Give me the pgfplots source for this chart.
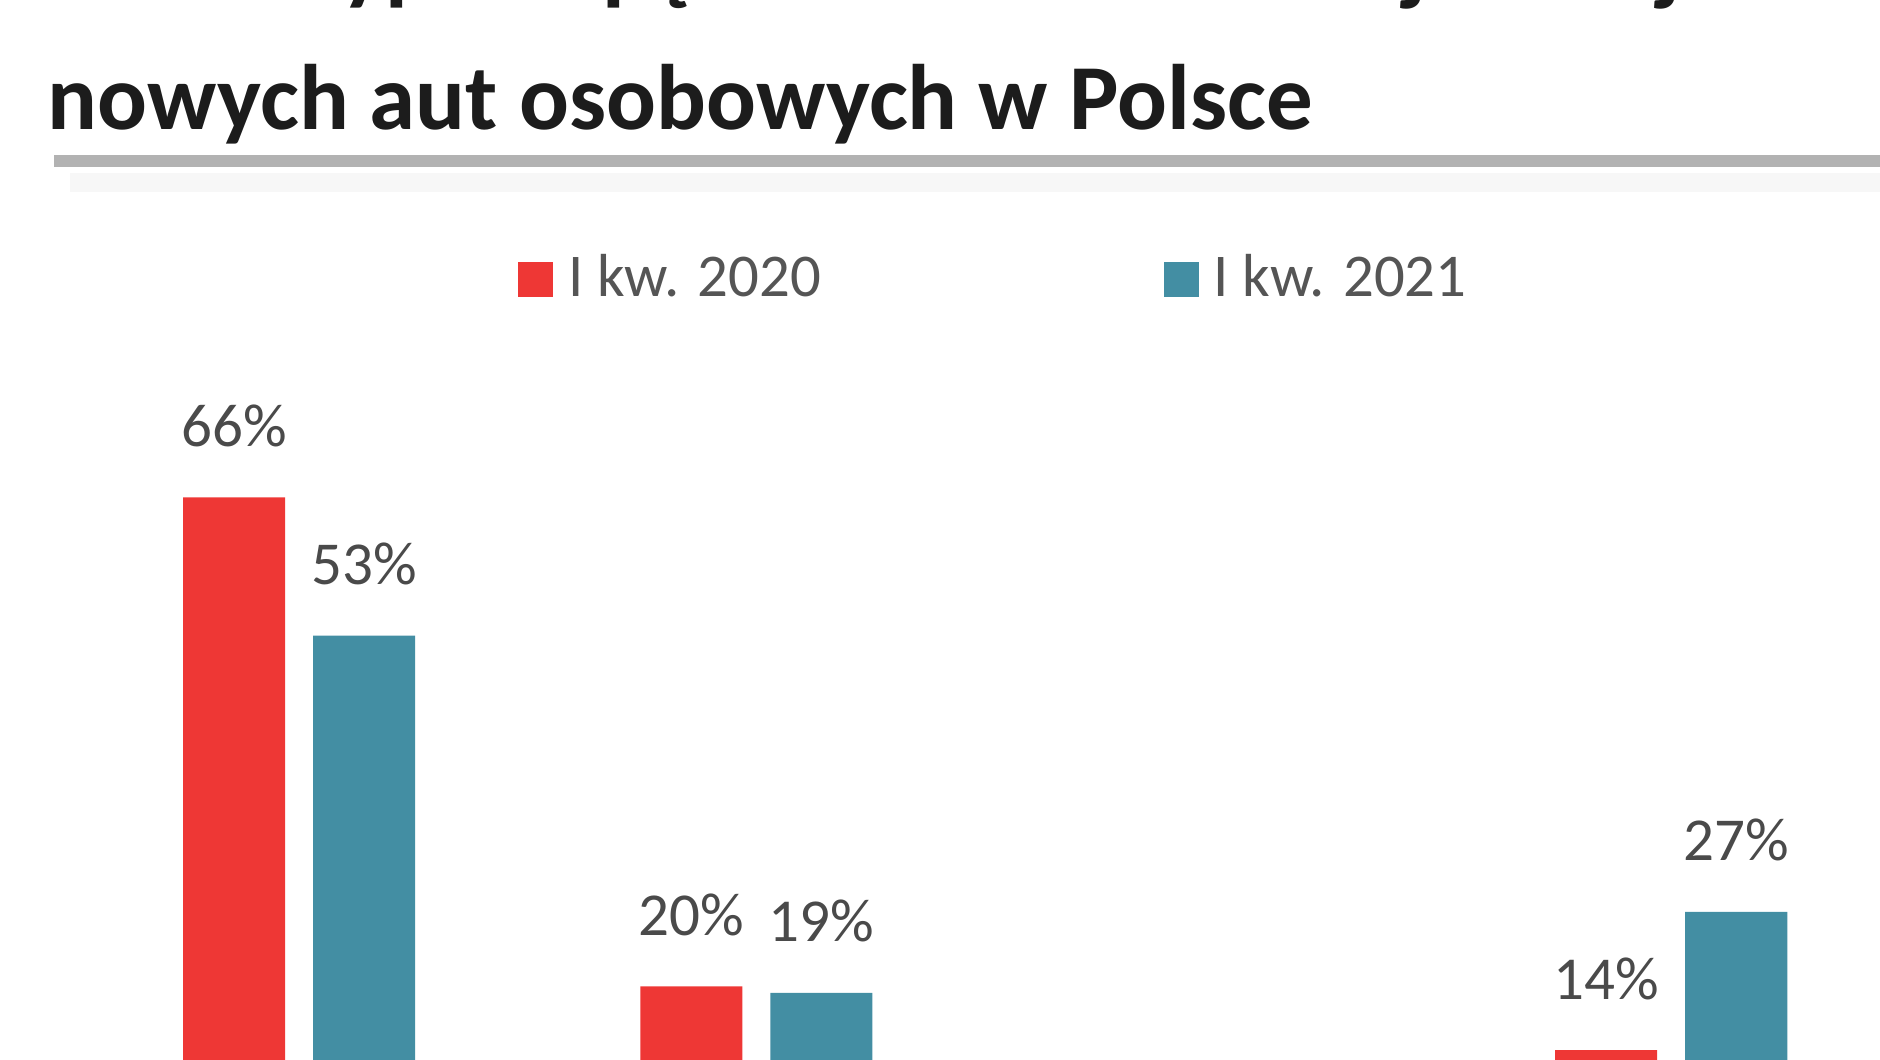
\documentclass[border=0pt]{standalone}
\usepackage{pgfplots}
\pgfplotsset{compat=1.18}
\usepackage{fontspec}
\setmainfont{Carlito}
\definecolor{c2020}{HTML}{EE3735}
\definecolor{c2021}{HTML}{438EA3}
\definecolor{lbl}{HTML}{4A4A4A}
\definecolor{leg}{HTML}{555555}
\definecolor{ttl}{HTML}{1C1C1C}
\pgfplotsset{sqlegend/.style={legend image code/.code={\fill[##1] (0pt,-7pt) rectangle (14pt,7pt);}}}
\begin{document}
\begin{tikzpicture}[x=0.4pt,y=0.4pt]
\useasboundingbox (0,0) rectangle (1880,1060);
\clip (0,0) rectangle (1880,1060);
\node[anchor=base west, inner sep=0pt, text=ttl, font=\fontsize{37.2pt}{44pt}\selectfont\bfseries] at (47,1066) {Udział typu napędu w strukturze rejestracji};
\node[anchor=base west, inner sep=0pt, text=ttl, font=\fontsize{37.2pt}{44pt}\selectfont\bfseries] at (47,930) {nowych aut osobowych w Polsce};
\fill[gray!60] (54,893) rectangle (1880,905);
\fill[black!3] (70,868) rectangle (1880,887);
\begin{axis}[
  at={(28.12pt,-55.6pt)}, anchor=south west,
  x=182.96pt, y=4.252pt,
  xmin=-0.5, xmax=3.5, ymin=0, ymax=90,
  axis lines=none, clip=false,
  ybar=11.2pt, bar width=40.8pt,
  /pgf/number format/assume math mode=true,
  nodes near coords={\pgfmathprintnumber[fixed,precision=0]{\pgfplotspointmeta}\%},
  every node near coord/.append style={anchor=base, yshift=20.4pt, inner sep=0pt, text=lbl, font=\fontsize{24.4pt}{29pt}\selectfont},
  legend columns=2,
  legend style={at={(0.2447,0.9611)}, anchor=west, draw=none, fill=none,
    inner sep=0pt, outer sep=0pt, text=leg,
    font=\fontsize{24.3pt}{29pt}\selectfont,
    nodes={inner sep=0pt, text depth=0.32em},
    /tikz/every odd column/.append style={column sep=6pt},
    /tikz/every even column/.append style={column sep=137pt}},
]
\addplot[fill=c2020, draw=none, sqlegend]
  coordinates {(0,66) (1,20) (2,0.4) (3,14)};
\addlegendentry{I kw. 2020}
\addplot[fill=c2021, draw=none, sqlegend]
  coordinates {(0,53) (1,19.4) (2,1) (3,27)};
\addlegendentry{I kw. 2021}
\end{axis}
\end{tikzpicture}
\end{document}
